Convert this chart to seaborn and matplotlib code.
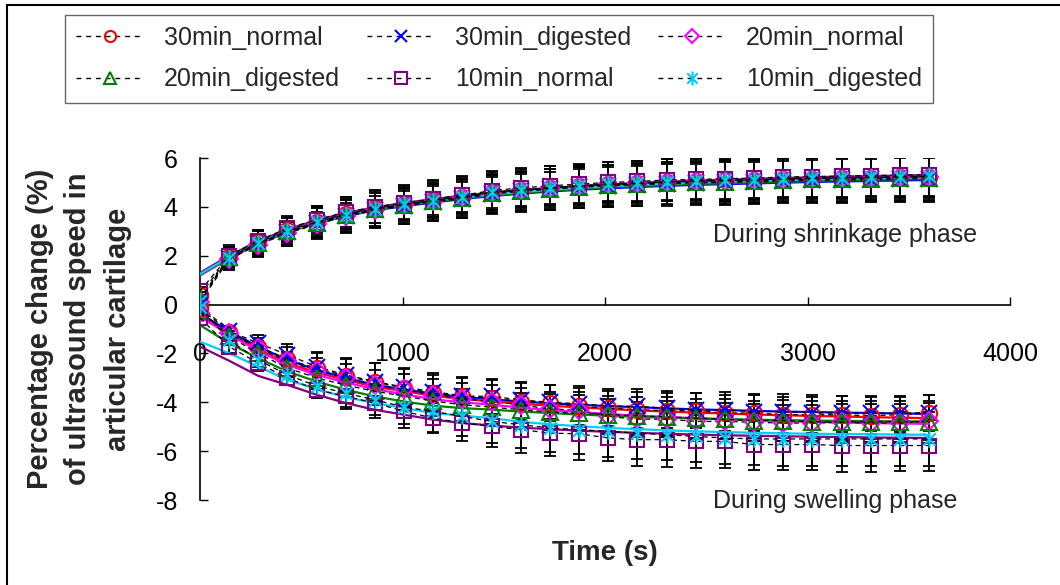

# plot.py
"""
Mudança percentual da velocidade do ultrassom na cartilagem
(fase de retração e fase de inchaço), estilo gráfico do Excel
"""

import numpy as np
import pandas as pd
import matplotlib
matplotlib.use("Agg")
import matplotlib.pyplot as plt
from matplotlib.path import Path
from matplotlib.lines import Line2D
import seaborn as sns

# ---------------- dados ----------------
tempo = [0, 144, 288, 432, 576, 720, 864, 1008, 1152, 1296, 1440, 1584, 1728,
         1872, 2016, 2160, 2304, 2448, 2592, 2736, 2880, 3024, 3168, 3312, 3456, 3600]

series = ['30min_normal', '30min_digested', '20min_normal',
          '20min_digested', '10min_normal', '10min_digested']

# fase de retração (valores medidos)
sh_30n = [0.4, 1.95, 2.55, 3.05, 3.4, 3.7, 3.95, 4.1, 4.27, 4.42, 4.6, 4.7, 4.78, 4.86, 4.92, 4.96, 5.02, 5.05, 5.08, 5.1, 5.15, 5.16, 5.18, 5.2, 5.22, 5.24]
sh_30d = [0.2, 1.9, 2.5, 2.98, 3.32, 3.62, 3.86, 4.04, 4.2, 4.34, 4.52, 4.64, 4.72, 4.8, 4.86, 4.9, 4.95, 4.98, 5.0, 5.02, 5.06, 5.08, 5.1, 5.12, 5.14, 5.16]
sh_20n = [0.1, 1.85, 2.45, 2.92, 3.28, 3.62, 3.88, 4.08, 4.25, 4.4, 4.58, 4.7, 4.78, 4.85, 4.92, 4.96, 5.02, 5.05, 5.08, 5.1, 5.14, 5.16, 5.18, 5.2, 5.22, 5.24]
sh_20d = [0.25, 1.95, 2.52, 3.0, 3.35, 3.66, 3.9, 4.06, 4.22, 4.36, 4.55, 4.66, 4.74, 4.82, 4.88, 4.92, 4.97, 5.0, 5.03, 5.05, 5.1, 5.12, 5.14, 5.16, 5.18, 5.2]
sh_10n = [0.55, 2.0, 2.62, 3.12, 3.48, 3.78, 4.0, 4.16, 4.32, 4.48, 4.66, 4.78, 4.86, 4.93, 5.0, 5.04, 5.1, 5.12, 5.15, 5.18, 5.22, 5.24, 5.26, 5.28, 5.3, 5.32]
sh_10d = [0.15, 1.92, 2.5, 3.0, 3.38, 3.68, 3.93, 4.1, 4.26, 4.4, 4.6, 4.7, 4.78, 4.86, 4.92, 4.96, 5.02, 5.05, 5.08, 5.1, 5.15, 5.17, 5.19, 5.21, 5.23, 5.25]

err_sh_30n = [0.1, 0.35, 0.45, 0.5, 0.55, 0.6, 0.62, 0.65, 0.68, 0.7, 0.72, 0.74, 0.75, 0.76, 0.78, 0.78, 0.8, 0.8, 0.82, 0.82, 0.84, 0.84, 0.85, 0.86, 0.86, 0.87]
err_sh_30d = [0.15, 0.45, 0.5, 0.58, 0.62, 0.68, 0.72, 0.75, 0.78, 0.8, 0.82, 0.84, 0.85, 0.86, 0.87, 0.88, 0.9, 0.9, 0.91, 0.92, 0.92, 0.93, 0.94, 0.94, 0.95, 0.95]
err_sh_20n = [0.1, 0.3, 0.4, 0.45, 0.5, 0.52, 0.55, 0.58, 0.6, 0.62, 0.64, 0.65, 0.66, 0.68, 0.7, 0.7, 0.72, 0.72, 0.74, 0.74, 0.75, 0.76, 0.76, 0.77, 0.78, 0.78]
err_sh_20d = [0.12, 0.4, 0.48, 0.55, 0.6, 0.65, 0.68, 0.7, 0.72, 0.74, 0.76, 0.78, 0.8, 0.8, 0.82, 0.82, 0.84, 0.84, 0.85, 0.86, 0.86, 0.87, 0.88, 0.88, 0.89, 0.9]
err_sh_10n = [0.15, 0.35, 0.42, 0.5, 0.56, 0.62, 0.66, 0.7, 0.72, 0.75, 0.77, 0.78, 0.8, 0.8, 0.82, 0.83, 0.84, 0.85, 0.86, 0.86, 0.87, 0.88, 0.88, 0.89, 0.9, 0.9]
err_sh_10d = [0.1, 0.5, 0.55, 0.6, 0.66, 0.72, 0.76, 0.8, 0.82, 0.85, 0.86, 0.88, 0.9, 0.9, 0.92, 0.93, 0.94, 0.95, 0.96, 0.96, 0.97, 0.98, 0.98, 0.99, 1.0, 1.0]

# linhas de tendência (retração)
fit_sh_30n = [1.25, 1.95, 2.55, 3.02, 3.38, 3.68, 3.92, 4.1, 4.26, 4.4, 4.52, 4.62, 4.71, 4.78, 4.85, 4.9, 4.95, 4.99, 5.03, 5.07, 5.1, 5.13, 5.16, 5.18, 5.2, 5.22]
fit_sh_30d = [1.2, 1.9, 2.5, 2.97, 3.32, 3.62, 3.86, 4.03, 4.18, 4.32, 4.44, 4.54, 4.63, 4.7, 4.76, 4.81, 4.86, 4.9, 4.93, 4.96, 4.99, 5.02, 5.04, 5.06, 5.08, 5.1]
fit_sh_20n = [1.2, 1.88, 2.48, 2.96, 3.33, 3.64, 3.89, 4.08, 4.24, 4.38, 4.5, 4.61, 4.7, 4.77, 4.84, 4.89, 4.94, 4.98, 5.02, 5.06, 5.09, 5.12, 5.15, 5.17, 5.19, 5.21]
fit_sh_20d = [1.22, 1.93, 2.52, 2.99, 3.35, 3.65, 3.89, 4.06, 4.21, 4.35, 4.47, 4.57, 4.66, 4.73, 4.8, 4.85, 4.9, 4.94, 4.97, 5.0, 5.03, 5.06, 5.09, 5.11, 5.13, 5.15]
fit_sh_10n = [1.3, 2.0, 2.6, 3.08, 3.45, 3.75, 3.98, 4.16, 4.32, 4.46, 4.58, 4.68, 4.77, 4.85, 4.92, 4.98, 5.03, 5.07, 5.11, 5.15, 5.18, 5.21, 5.24, 5.26, 5.28, 5.3]
fit_sh_10d = [1.25, 1.95, 2.54, 3.01, 3.37, 3.67, 3.91, 4.09, 4.25, 4.39, 4.51, 4.61, 4.7, 4.78, 4.84, 4.9, 4.95, 4.99, 5.03, 5.06, 5.09, 5.12, 5.15, 5.17, 5.19, 5.21]

# fase de inchaço (valores medidos)
sw_30n = [-0.15, -1.11, -1.72, -2.24, -2.61, -2.92, -3.19, -3.4, -3.63, -3.76, -3.83, -3.97, -4.03, -4.17, -4.24, -4.31, -4.34, -4.34, -4.44, -4.44, -4.51, -4.51, -4.51, -4.55, -4.51, -4.44]
sw_30d = [-0.05, -1.08, -1.58, -2.06, -2.54, -2.88, -3.15, -3.38, -3.56, -3.74, -3.76, -3.9, -4.0, -4.06, -4.15, -4.17, -4.24, -4.31, -4.31, -4.38, -4.38, -4.42, -4.45, -4.45, -4.45, -4.42]
sw_20n = [-0.35, -1.15, -1.78, -2.33, -2.7, -3.0, -3.28, -3.47, -3.7, -3.86, -3.97, -4.1, -4.28, -4.31, -4.58, -4.69, -4.69, -4.78, -4.78, -4.82, -4.85, -4.85, -4.82, -4.85, -4.85, -4.78]
sw_20d = [-0.25, -1.3, -2.0, -2.6, -3.0, -3.3, -3.55, -3.75, -3.95, -4.1, -4.2, -4.3, -4.4, -4.45, -4.5, -4.55, -4.6, -4.65, -4.7, -4.75, -4.75, -4.8, -4.8, -4.8, -4.8, -4.8]
sw_10n = [-0.55, -1.72, -2.4, -3.01, -3.49, -3.76, -4.03, -4.37, -4.65, -4.85, -4.99, -5.12, -5.26, -5.29, -5.46, -5.53, -5.53, -5.6, -5.6, -5.73, -5.73, -5.73, -5.77, -5.77, -5.77, -5.77]
sw_10d = [-0.1, -1.45, -2.27, -2.88, -3.33, -3.63, -3.9, -4.2, -4.37, -4.58, -4.78, -4.92, -5.05, -5.12, -5.19, -5.26, -5.33, -5.4, -5.46, -5.5, -5.5, -5.5, -5.5, -5.5, -5.5, -5.5]

err_sw_30n = [0.05, 0.25, 0.35, 0.5, 0.62, 0.7, 0.78, 0.78, 0.76, 0.76, 0.75, 0.76, 0.72, 0.74, 0.72, 0.74, 0.72, 0.72, 0.74, 0.74, 0.74, 0.74, 0.75, 0.75, 0.74, 0.72]
err_sw_30d = [0.05, 0.22, 0.32, 0.45, 0.6, 0.68, 0.76, 0.78, 0.75, 0.76, 0.72, 0.74, 0.7, 0.72, 0.7, 0.72, 0.7, 0.7, 0.72, 0.72, 0.72, 0.72, 0.72, 0.72, 0.72, 0.72]
err_sw_20n = [0.05, 0.2, 0.3, 0.4, 0.5, 0.55, 0.6, 0.62, 0.64, 0.66, 0.68, 0.7, 0.7, 0.72, 0.72, 0.72, 0.74, 0.74, 0.74, 0.75, 0.75, 0.75, 0.76, 0.76, 0.76, 0.76]
err_sw_20d = [0.05, 0.2, 0.3, 0.38, 0.45, 0.5, 0.55, 0.58, 0.62, 0.65, 0.68, 0.7, 0.72, 0.74, 0.76, 0.78, 0.8, 0.8, 0.82, 0.82, 0.84, 0.84, 0.85, 0.85, 0.86, 0.86]
err_sw_10n = [0.1, 0.25, 0.3, 0.3, 0.35, 0.52, 0.62, 0.68, 0.62, 0.75, 0.84, 0.95, 0.95, 1.06, 0.95, 1.06, 1.12, 1.08, 1.1, 1.05, 1.05, 1.05, 1.08, 1.08, 1.05, 1.05]
err_sw_10d = [0.05, 0.2, 0.3, 0.4, 0.48, 0.55, 0.62, 0.68, 0.85, 0.8, 0.9, 0.95, 1.0, 1.0, 1.05, 1.05, 1.05, 1.05, 1.08, 1.08, 1.1, 1.1, 1.1, 1.1, 1.12, 1.12]

# linhas de tendência (inchaço)
fit_sw_30n = [-0.43, -1.17, -1.83, -2.4, -2.78, -3.08, -3.37, -3.54, -3.74, -3.86, -3.97, -4.06, -4.14, -4.21, -4.27, -4.33, -4.38, -4.42, -4.46, -4.5, -4.53, -4.56, -4.58, -4.61, -4.63, -4.65]
fit_sw_30d = [-0.36, -1.1, -1.72, -2.27, -2.67, -3.0, -3.29, -3.47, -3.65, -3.78, -3.88, -3.97, -4.04, -4.1, -4.16, -4.2, -4.25, -4.29, -4.32, -4.35, -4.38, -4.4, -4.42, -4.44, -4.46, -4.47]
fit_sw_20n = [-0.5, -1.23, -1.9, -2.47, -2.88, -3.19, -3.47, -3.67, -3.88, -4.0, -4.1, -4.22, -4.32, -4.4, -4.48, -4.55, -4.6, -4.65, -4.7, -4.74, -4.77, -4.8, -4.83, -4.85, -4.87, -4.88]
fit_sw_20d = [-0.84, -1.58, -2.2, -2.74, -3.15, -3.49, -3.76, -3.97, -4.14, -4.24, -4.3, -4.38, -4.44, -4.5, -4.55, -4.6, -4.63, -4.66, -4.69, -4.71, -4.73, -4.75, -4.76, -4.77, -4.78, -4.78]
fit_sw_10n = [-1.72, -2.3, -2.92, -3.29, -3.69, -4.03, -4.31, -4.51, -4.71, -4.85, -4.95, -5.04, -5.1, -5.16, -5.21, -5.25, -5.29, -5.32, -5.35, -5.37, -5.39, -5.41, -5.42, -5.44, -5.45, -5.46]
fit_sw_10d = [-1.52, -1.99, -2.54, -3.08, -3.46, -3.79, -4.03, -4.24, -4.44, -4.55, -4.65, -4.8, -4.9, -4.98, -5.05, -5.1, -5.15, -5.19, -5.22, -5.25, -5.27, -5.29, -5.3, -5.31, -5.32, -5.33]

# ---------------- estilos ----------------
cores = ['#FF0000', '#0000FF', '#FF00FF', '#008000', '#800080', '#00CCFF']

# asterisco do Excel: X com traço vertical
asterisco = Path([(0, -1), (0, 1), (-0.75, -0.75), (0.75, 0.75), (-0.75, 0.75), (0.75, -0.75)],
                 [Path.MOVETO, Path.LINETO, Path.MOVETO, Path.LINETO, Path.MOVETO, Path.LINETO])
marcadores = ['o', 'x', 'D', '^', 's', asterisco]
tamanhos = [11, 11, 9, 11, 10, 12]
tamanhos_leg = [8, 9, 7, 9, 8, 10]


def desenhar_fase(ax, valores, erros, ajustes):
    """Desenha uma fase: barras de erro, pontos e linhas de tendência"""
    # linhas de tendência com seaborn
    df = pd.DataFrame({
        'tempo': tempo * len(series),
        'valor': sum(ajustes, []),
        'serie': np.repeat(series, len(tempo)),
    })
    sns.lineplot(data=df, x='tempo', y='valor', hue='serie', palette=cores,
                 hue_order=series, sort=False, legend=False, linewidth=1.6,
                 errorbar=None, ax=ax, zorder=3)

    for i, nome in enumerate(series):
        ax.errorbar(tempo, valores[i], yerr=erros[i], fmt='none', ecolor='black',
                    elinewidth=1.3, capsize=4.5, capthick=1.3, zorder=2)
        ax.plot(tempo, valores[i], linestyle=(0, (4, 3)), color='black', linewidth=0.9,
                marker=marcadores[i], markersize=tamanhos[i], markerfacecolor='none',
                markeredgecolor=cores[i], markeredgewidth=1.5, zorder=4)


def gerar_grafico():
    sns.set_theme(style='white')
    plt.rcParams['font.family'] = ['Liberation Sans', 'DejaVu Sans']

    fig = plt.figure(figsize=(10.6, 5.85), dpi=100)
    ax = fig.add_axes([200 / 1060, 85 / 585, 810 / 1060, 342 / 585])

    desenhar_fase(ax, [sh_30n, sh_30d, sh_20n, sh_20d, sh_10n, sh_10d],
                  [err_sh_30n, err_sh_30d, err_sh_20n, err_sh_20d, err_sh_10n, err_sh_10d],
                  [fit_sh_30n, fit_sh_30d, fit_sh_20n, fit_sh_20d, fit_sh_10n, fit_sh_10d])
    desenhar_fase(ax, [sw_30n, sw_30d, sw_20n, sw_20d, sw_10n, sw_10d],
                  [err_sw_30n, err_sw_30d, err_sw_20n, err_sw_20d, err_sw_10n, err_sw_10d],
                  [fit_sw_30n, fit_sw_30d, fit_sw_20n, fit_sw_20d, fit_sw_10n, fit_sw_10d])

    # eixos estilo Excel: eixo x cruzando em y=0
    ax.set_xlim(0, 4000)
    ax.set_ylim(-8, 6)
    ax.set_xticks([0, 1000, 2000, 3000, 4000])
    ax.set_yticks([-8, -6, -4, -2, 0, 2, 4, 6])
    ax.set_yticklabels(['-8', '-6', '-4', '-2', '0', '2', '4', '6'])
    ax.spines['top'].set_visible(False)
    ax.spines['right'].set_visible(False)
    ax.spines['bottom'].set_position(('data', 0))
    for lado in ['left', 'bottom']:
        ax.spines[lado].set_color('black')
        ax.spines[lado].set_linewidth(1.2)
    ax.tick_params(axis='x', direction='in', length=6, width=1, pad=27,
                   labelsize=18, colors='black', bottom=True)
    ax.tick_params(axis='y', direction='in', length=6, width=1, pad=16,
                   labelsize=18, colors='black', left=True)
    ax.grid(False)

    ax.set_xlabel('Time (s)', fontsize=20, fontweight='bold')
    ax.xaxis.set_label_coords(0.5, -0.155)
    ax.xaxis.label.set_verticalalignment('center')
    ax.set_ylabel('Percentage change (%)\nof ultrasound speed in\narticular cartilage',
                  fontsize=21, fontweight='bold', linespacing=1.5)
    ax.yaxis.set_label_coords(-0.15, 0.5)
    ax.yaxis.label.set_verticalalignment('center')

    ax.text(2533, 2.84, 'During shrinkage phase', fontsize=18, ha='left', va='center')
    ax.text(2533, -8.05, 'During swelling phase', fontsize=18, ha='left', va='center')

    # legenda em 3 colunas, preenchida por linha
    alcas = [Line2D([], [], linestyle=(0, (3.5, 3.5)), color='black', linewidth=1.0,
                    marker=marcadores[i], markersize=tamanhos_leg[i], markerfacecolor='none',
                    markeredgecolor=cores[i], markeredgewidth=1.5) for i in range(6)]
    ordem = [0, 3, 1, 4, 2, 5]
    leg = ax.legend([alcas[i] for i in ordem], [series[i] for i in ordem], ncol=3,
                    loc='center', bbox_to_anchor=(499 / 1060, 1 - 58.5 / 585),
                    bbox_transform=fig.transFigure, fontsize=18, frameon=True,
                    fancybox=False, edgecolor='#404040', handlelength=2.7,
                    handletextpad=0.8, columnspacing=1.1, labelspacing=0.7,
                    borderpad=0.45)
    leg.get_frame().set_linewidth(1.0)

    # borda da área do gráfico (só topo e esquerda aparecem)
    fig.add_artist(Line2D([7 / 1060, 1], [1 - 5 / 585, 1 - 5 / 585], color='black', linewidth=1.5))
    fig.add_artist(Line2D([7 / 1060, 7 / 1060], [0, 1 - 5 / 585], color='black', linewidth=1.5))

    fig.savefig('out.png', dpi=100)
    plt.close(fig)


if __name__ == '__main__':
    gerar_grafico()
